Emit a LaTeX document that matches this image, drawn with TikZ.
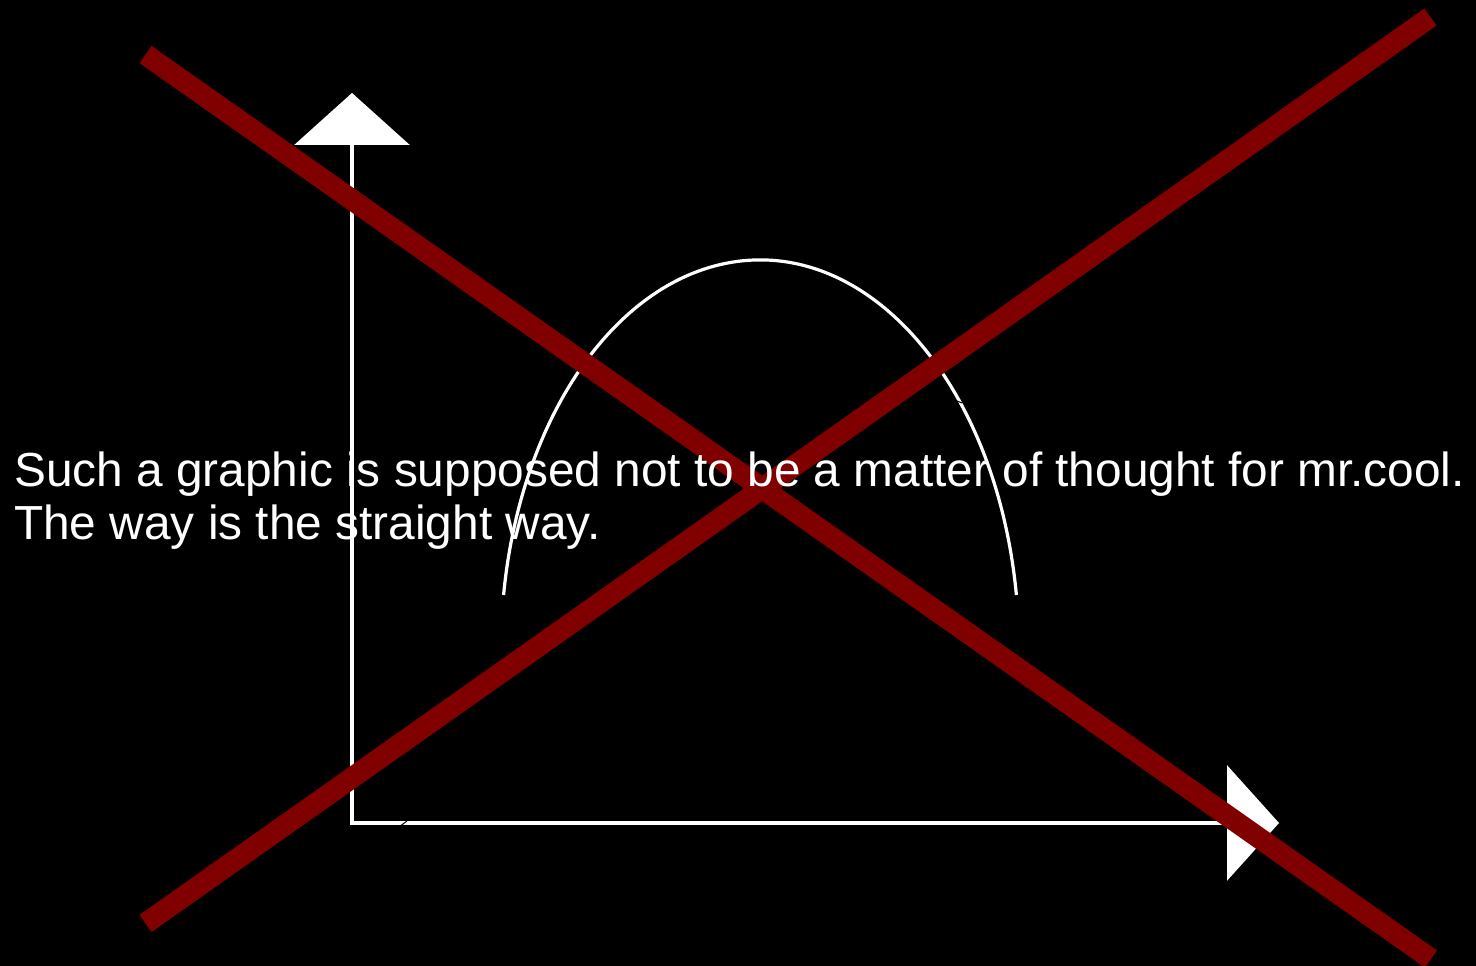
\documentclass[tikz,border=0pt]{standalone}
\usepackage{fontspec}
\setmainfont{Liberation Sans}
\usetikzlibrary{arrows.meta}
\definecolor{crossred}{RGB}{128,0,0}
\tikzset{
  axis/.style={draw=white, line width=3.5pt, line join=miter,
    {Triangle[length=52pt,width=115pt]}-{Triangle[length=52pt,width=115pt]}},
  curve/.style={draw=white, line width=3.2pt},
  crossline/.style={draw=crossred, line width=21pt, line cap=butt},
  caption/.style={text=white, font=\fontsize{47.8pt}{53pt}\selectfont, align=left, inner sep=0pt},
  speck/.style={draw=black, line width=1pt}
}
\begin{document}
\begin{tikzpicture}[x=1pt,y=1pt]
\fill[black] (0,0) rectangle (1476,966);
\useasboundingbox (0,0) rectangle (1476,966);
% axes
\coordinate (O) at (352,143);
\coordinate (ytip) at (352,873);
\coordinate (xtip) at (1279,143);
\draw[axis] (ytip) -- (O) -- (xtip);
% arc
\coordinate (arcstart) at (1016.4,371);
\draw[curve] (arcstart) arc[start angle=8.1, end angle=171.9, x radius=259, y radius=390];
% specks
\coordinate (s1a) at (399,139); \coordinate (s1b) at (407,145);
\draw[speck] (s1a) -- (s1b);
\coordinate (s2a) at (957,565); \coordinate (s2b) at (962,563);
\draw[speck] (s2a) -- (s2b);
% cross
\coordinate (a1) at (145.5,911.5); \coordinate (a2) at (1431,7);
\coordinate (b1) at (145.5,42.5);  \coordinate (b2) at (1430.5,949);
\draw[crossline] (a1) -- (a2);
\draw[crossline] (b1) -- (b2);
% text on top (anchor at baseline of the last line)
\node[caption, anchor=base west] (txt) at (14,426)
  {Such a graphic is supposed not to be a matter of thought for mr.cool.\\The way is the straight way.};
\end{tikzpicture}
\end{document}
